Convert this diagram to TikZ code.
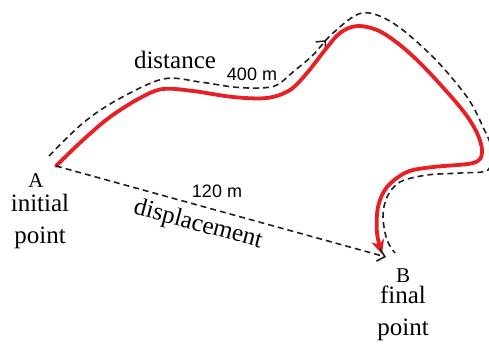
\documentclass[tikz,border=0pt]{standalone}
\usepackage{fontspec}
\setmainfont{Liberation Serif}
\newfontfamily\numfont{Liberation Sans}
\usetikzlibrary{arrows.meta,decorations.markings}
\definecolor{pathred}{RGB}{232,32,38}
\definecolor{dashgray}{RGB}{35,31,32}
\begin{document}
\begin{tikzpicture}[x=1pt,y=-1pt,
 redpath/.style={pathred, line width=3.8pt, line cap=round, line join=round},
 dashpath/.style={dashgray, line width=1.6pt, dash pattern=on 6pt off 4pt},
 barb/.style={-{Straight Barb[length=7pt,width=13pt]}},
 biglabel/.style={font=\fontsize{25}{32}\selectfont, align=center, inner sep=0pt},
 ptlabel/.style={font=\fontsize{21}{24}\selectfont, inner sep=0pt},
 numlabel/.style={font=\numfont\fontsize{18}{20}\selectfont, inner sep=0pt}]
\useasboundingbox (0,0) rectangle (489,343);
\clip (0,0) rectangle (489,343);
\coordinate (A) at (56,166);
\coordinate (B) at (386,257);
% outer dashed distance path
\draw[dashpath, postaction={decorate}, decoration={markings,
  mark=at position 321pt with {\arrow[solid,line width=1.5pt]{Straight Barb[length=7pt,width=13pt]}}}]
  plot[smooth,tension=0.55] coordinates {(49,156) (83,123) (117,100) (163,79) (200,82) (233,87) (260,88) (277,85) (293,72) (313,55) (333,33) (362,13) (393,23) (433,57) (467,97) (483,127) (492,150) (488,170) (460,173) (427,175) (400,182) (387,197) (383,217) (387,240) (395,253)};
% red path
\draw[redpath, -{Stealth[length=14pt,width=13pt,inset=4pt]}]
  plot[smooth,tension=0.55] coordinates {(A) (83,140) (110,117) (140,98) (163,89) (193,91) (233,97) (267,98) (290,90) (307,73) (325,50) (340,33) (358,26) (383,33) (417,60) (460,107) (477,133) (482,153) (473,163) (433,167) (407,172) (387,187) (378,207) (377,233) (382,254)};
% displacement
\draw[dashpath, barb] (A) -- (B);
% labels
\node[biglabel] (distlbl) at (175,60) {distance};
\node[numlabel] (distnum) at (252,74) {400 m};
\node[numlabel] (dispnum) at (217,191) {120 m};
\node[biglabel, rotate=-15] (displbl) at (198,225) {displacement};
\node[ptlabel] (Alab) at (36,181) {A};
\node[biglabel] (Atext) at (40,221) {initial\\point};
\node[ptlabel] (Blab) at (403,276) {B};
\node[biglabel] (Btext) at (403,313) {final\\point};
\end{tikzpicture}
\end{document}
